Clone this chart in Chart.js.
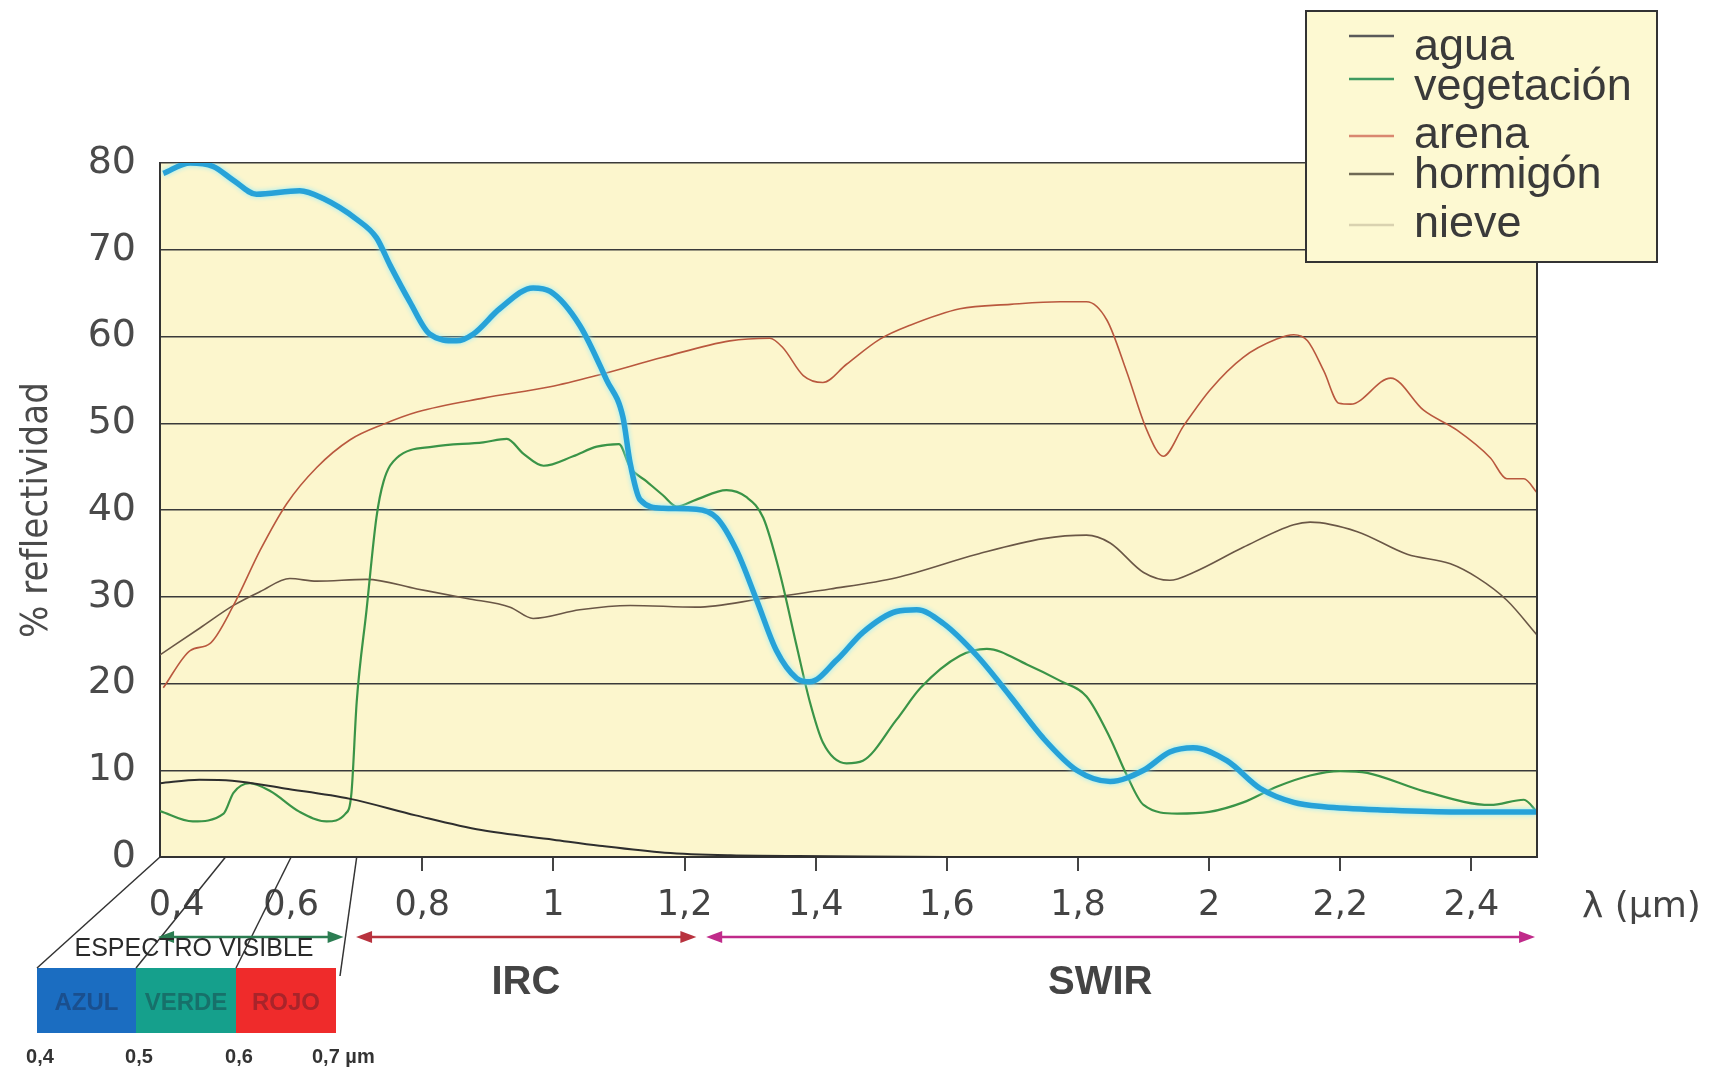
<!DOCTYPE html>
<html lang="es">
<head>
<meta charset="utf-8">
<title>Reflectividad espectral</title>
<script src="https://cdn.jsdelivr.net/npm/chart.js@4.4.1/dist/chart.umd.min.js"></script>
<style>
  html, body { margin: 0; padding: 0; background: #fff; }
  #wrap { width: 1731px; height: 1068px; position: relative; }
</style>
</head>
<body>
<div id="wrap"><canvas id="chart" width="1731" height="1068"></canvas></div>
<script>
// longitud de onda (µm) y % de reflectividad
const aguaX = [0.4, 0.46, 0.51, 0.59, 0.69, 0.79, 0.89, 1.0, 1.07, 1.17, 1.27, 1.42, 1.6, 2.0, 2.5];
const aguaY = [8.5, 8.9, 8.8, 7.9, 6.7, 4.8, 3.1, 2.0, 1.3, 0.5, 0.2, 0.1, 0, 0, 0];

const vegX = [0.4, 0.45, 0.497, 0.512, 0.537, 0.568, 0.613, 0.654, 0.683, 0.692, 0.70, 0.715, 0.73, 0.741, 0.761,
  0.817, 0.893, 0.929, 0.954, 0.985, 1.03, 1.066, 1.10, 1.117, 1.142, 1.167, 1.188, 1.218, 1.264, 1.294, 1.32,
  1.345, 1.371, 1.391, 1.411, 1.447, 1.472, 1.523, 1.56, 1.62, 1.661, 1.722, 1.773, 1.813, 1.849, 1.874, 1.90,
  1.951, 2.0, 2.052, 2.103, 2.154, 2.2, 2.241, 2.327, 2.429, 2.48, 2.5];
const vegY = [5.3, 4.1, 5.0, 7.4, 8.5, 7.6, 5.2, 4.1, 5.0, 7.4, 17.9, 28.5, 39.1, 43.3, 46,
  47.3, 47.8, 48.2, 46.5, 45.1, 46.2, 47.3, 47.6, 44.9, 43.3, 41.7, 40.4, 41.2, 42.3, 41.5, 39.1,
  32.8, 24.3, 17.9, 13.2, 10.8, 11.1, 15.8, 19.5, 23.2, 24, 22.2, 20.3, 18.5, 13.7, 9.5, 6.0,
  5.0, 5.2, 6.3, 8.1, 9.4, 9.9, 9.7, 7.6, 6.0, 6.6, 5.2];

const arenaX = [0.405, 0.446, 0.476, 0.512, 0.553, 0.593, 0.639, 0.69, 0.741, 0.792, 0.893, 0.995, 1.066, 1.167,
  1.269, 1.33, 1.35, 1.381, 1.411, 1.447, 1.498, 1.544, 1.62, 1.697, 1.773, 1.813, 1.844, 1.874, 1.905, 1.93,
  1.961, 2.002, 2.052, 2.103, 2.129, 2.15, 2.175, 2.198, 2.216, 2.277, 2.327, 2.378, 2.429, 2.454, 2.48, 2.5];
const arenaY = [19.5, 23.8, 24.6, 29, 35.4, 40.7, 44.9, 48.1, 49.9, 51.3, 52.9, 54.2, 55.5, 57.6,
  59.5, 59.8, 58.7, 55.5, 54.7, 56.8, 59.7, 61.3, 63.2, 63.7, 64, 64, 61.9, 56, 49.2, 46.2,
  49.7, 53.9, 57.6, 59.7, 60.2, 59.5, 56, 52.3, 52.2, 55.2, 51.5, 49.2, 46, 43.6, 43.6, 42];

const hormigonX = [0.4, 0.461, 0.512, 0.553, 0.598, 0.639, 0.715, 0.792, 0.868, 0.934, 0.969, 1.04, 1.117, 1.218,
  1.32, 1.422, 1.523, 1.646, 1.747, 1.813, 1.849, 1.9, 1.94, 1.976, 2.052, 2.129, 2.154, 2.226, 2.302, 2.368,
  2.409, 2.454, 2.5];
const hormigonY = [23.3, 26.4, 29, 30.6, 32.1, 31.8, 32, 30.9, 29.8, 28.8, 27.5, 28.5, 29, 28.8,
  29.8, 30.9, 32.2, 34.9, 36.7, 37.1, 36.2, 32.8, 31.9, 32.8, 35.7, 38.3, 38.6, 37.5, 34.9, 33.8,
  32.2, 29.6, 25.6];

const nieveX = [0.405, 0.446, 0.481, 0.512, 0.547, 0.613, 0.649, 0.70, 0.73, 0.751, 0.781, 0.811, 0.852, 0.878,
  0.918, 0.969, 0.995, 1.04, 1.081, 1.106, 1.117, 1.132, 1.167, 1.218, 1.249, 1.279, 1.31, 1.34, 1.371, 1.391,
  1.432, 1.472, 1.523, 1.554, 1.595, 1.646, 1.697, 1.747, 1.798, 1.849, 1.9, 1.94, 1.976, 2.027, 2.078, 2.129,
  2.175, 2.277, 2.378, 2.5];
const nieveY = [78.8, 80, 79.6, 78, 76.4, 76.8, 75.9, 73.5, 71.4, 68.2, 64, 60.3, 59.5, 60.3,
  63.2, 65.6, 65.2, 61.3, 55, 50.7, 45.4, 41.2, 40.2, 40.1, 39.1, 35.4, 29.6, 23.8, 20.6, 20.2,
  22.7, 25.9, 28.3, 28.5, 26.9, 23.2, 18.5, 13.7, 10.0, 8.7, 10.0, 12.1, 12.6, 11.1, 7.9, 6.3,
  5.8, 5.4, 5.2, 5.2];

const xTicks = [0.4, 0.6, 0.8, 1.0, 1.2, 1.4, 1.6, 1.8, 2.0, 2.2, 2.4];
const bandEdges = [0.4, 0.5, 0.6, 0.7];
const bandNames = ['AZUL', 'VERDE', 'ROJO'];

const pts = (xs, ys) => xs.map((x, i) => ({ x: x, y: ys[i] }));

const extras = {
  id: 'extras',
  beforeDraw(chart) {
    const { ctx, chartArea: a } = chart;
    ctx.save();
    ctx.fillStyle = '#fcf6cd';
    ctx.fillRect(a.left, a.top, a.right - a.left, a.bottom - a.top);
    ctx.restore();
  },
  // halo claro alrededor de la curva de nieve
  beforeDatasetDraw(chart, args) {
    if (chart.data.datasets[args.index].label !== 'nieve') return;
    chart.ctx.save();
    chart.ctx.shadowColor = 'rgba(140, 235, 255, 0.95)';
    chart.ctx.shadowBlur = 5;
  },
  afterDatasetDraw(chart, args) {
    if (chart.data.datasets[args.index].label !== 'nieve') return;
    chart.ctx.restore();
  },
  afterDraw(chart) {
    const { ctx, chartArea: a } = chart;
    const xs = chart.scales.x;
    ctx.save();

    // borde derecho
    ctx.strokeStyle = '#333';
    ctx.lineWidth = 2;
    ctx.beginPath();
    ctx.moveTo(a.right, a.top);
    ctx.lineTo(a.right, a.bottom);
    ctx.stroke();

    // barra del espectro visible
    const barX = [37, 136, 236, 336];
    const barTop = 968, barH = 65;
    const barFill = ['#1b6dc1', '#15a08c', '#ef2b2b'];
    const barText = ['#1a4f8e', '#17706a', '#a8242a'];
    for (let i = 0; i < 3; i++) {
      ctx.fillStyle = barFill[i];
      ctx.fillRect(barX[i], barTop, barX[i + 1] - barX[i], barH);
      ctx.fillStyle = barText[i];
      ctx.font = 'bold 24px "Liberation Sans", Arial, sans-serif';
      ctx.textAlign = 'center';
      ctx.textBaseline = 'middle';
      ctx.fillText(bandNames[i], (barX[i] + barX[i + 1]) / 2, barTop + 35);
    }

    // lineas diagonales desde el eje hasta la barra
    ctx.strokeStyle = '#333';
    ctx.lineWidth = 1.5;
    bandEdges.forEach((w, i) => {
      ctx.beginPath();
      ctx.moveTo(xs.getPixelForValue(w), a.bottom);
      ctx.lineTo(i === 3 ? barX[i] + 4 : barX[i], i === 3 ? barTop + 8 : barTop);
      ctx.stroke();
    });

    // etiquetas bajo la barra
    ctx.fillStyle = '#333';
    ctx.font = 'bold 20px "Liberation Sans", Arial, sans-serif';
    ctx.textBaseline = 'middle';
    ctx.textAlign = 'center';
    bandEdges.forEach((w, i) => {
      const lbl = String(w).replace('.', ',');
      if (i < 3) ctx.fillText(lbl, barX[i] + 3, 1057);
      else { ctx.textAlign = 'left'; ctx.fillText(lbl + ' µm', barX[i] - 24, 1057); }
    });

    // flechas de rangos
    const arrow = (w1, w2, color) => {
      const x1 = xs.getPixelForValue(w1), x2 = xs.getPixelForValue(w2), y = 937;
      ctx.strokeStyle = color;
      ctx.fillStyle = color;
      ctx.lineWidth = 2.5;
      ctx.beginPath();
      ctx.moveTo(x1 + 8, y);
      ctx.lineTo(x2 - 8, y);
      ctx.stroke();
      [[x1, 1], [x2, -1]].forEach(([x, d]) => {
        ctx.beginPath();
        ctx.moveTo(x, y);
        ctx.lineTo(x + 16 * d, y - 6);
        ctx.lineTo(x + 16 * d, y + 6);
        ctx.closePath();
        ctx.fill();
      });
    };
    arrow(0.397, 0.68, '#2c7d52');
    arrow(0.699, 1.218, '#b8323e');
    arrow(1.233, 2.497, '#c02a8a');

    ctx.fillStyle = '#2a2a2a';
    ctx.font = '25px "Liberation Sans", Arial, sans-serif';
    ctx.textAlign = 'center';
    ctx.fillText('ESPECTRO VISIBLE', 194, 949);

    ctx.fillStyle = '#444';
    ctx.font = 'bold 40px "Liberation Sans", Arial, sans-serif';
    ctx.fillText('IRC', xs.getPixelForValue(0.958), 983);
    ctx.fillText('SWIR', xs.getPixelForValue(1.834), 983);

    ctx.fillStyle = '#444';
    ctx.font = '36px "DejaVu Sans", sans-serif';
    ctx.textAlign = 'left';
    ctx.fillText('λ (µm)', 1582, 908);

    // leyenda
    const lx = 1306, ly = 11, lw = 351, lh = 251;
    ctx.fillStyle = '#fdf9d2';
    ctx.fillRect(lx, ly, lw, lh);
    ctx.strokeStyle = '#333';
    ctx.lineWidth = 2;
    ctx.strokeRect(lx, ly, lw, lh);
    const lineY = [36, 79, 136, 174, 225];
    const baseY = [60, 100, 148, 188, 237];
    ctx.font = '45px "Liberation Sans", Arial, sans-serif';
    ctx.textBaseline = 'alphabetic';
    chart.data.datasets.forEach((ds, i) => {
      ctx.strokeStyle = ds.legendColor || ds.borderColor;
      ctx.lineWidth = 2.5;
      ctx.beginPath();
      ctx.moveTo(1349, lineY[i]);
      ctx.lineTo(1394, lineY[i]);
      ctx.stroke();
      ctx.fillStyle = '#3a3a3a';
      ctx.fillText(ds.label, 1414, baseY[i]);
    });

    ctx.restore();
  }
};

new Chart(document.getElementById('chart'), {
  type: 'line',
  data: {
    datasets: [
      { label: 'agua', data: pts(aguaX, aguaY), borderColor: '#2e2e2e', borderWidth: 2, legendColor: '#5a5a5a', order: 1 },
      { label: 'vegetación', data: pts(vegX, vegY), borderColor: '#3a9447', borderWidth: 2.2, legendColor: '#3f9a60', order: 1 },
      { label: 'arena', data: pts(arenaX, arenaY), borderColor: '#b9583e', borderWidth: 1.6, legendColor: '#d98870', order: 1 },
      { label: 'hormigón', data: pts(hormigonX, hormigonY), borderColor: '#6a5746', borderWidth: 1.6, legendColor: '#6f6a55', order: 1 },
      { label: 'nieve', data: pts(nieveX, nieveY), borderColor: '#27a2d8', borderWidth: 5.5, legendColor: '#d9d2b0', order: 0 }
    ]
  },
  options: {
    responsive: false,
    animation: false,
    layout: { padding: { left: 0, top: 163, right: 194, bottom: 0 } },
    elements: {
      point: { radius: 0 },
      line: { cubicInterpolationMode: 'monotone', fill: false }
    },
    plugins: {
      legend: { display: false },
      tooltip: { enabled: false }
    },
    scales: {
      x: {
        type: 'linear',
        min: 0.4,
        max: 2.5,
        afterBuildTicks: (s) => { s.ticks = xTicks.map(v => ({ value: v })); },
        afterFit: (s) => { s.height = 211; },
        grid: {
          drawOnChartArea: false,
          tickLength: 14,
          lineWidth: 2,
          color: (c) => (c.tick && c.tick.value < 0.7 ? 'rgba(0,0,0,0)' : '#444')
        },
        border: { color: '#333', width: 2 },
        ticks: {
          padding: 14,
          color: '#444',
          font: { family: '"DejaVu Sans", sans-serif', size: 35 },
          // la primera etiqueta va algo desplazada a la derecha
          callback: (v) => (v === 0.4 ? '   ' : '') + String(Math.round(v * 10) / 10).replace('.', ',')
        }
      },
      y: {
        min: 0,
        max: 80,
        afterFit: (s) => { s.width = 160; },
        grid: { color: '#3a3a3a', lineWidth: 1.5, drawTicks: false },
        border: { color: '#333', width: 2 },
        ticks: {
          stepSize: 10,
          padding: 24,
          color: '#4a4a4a',
          font: { family: '"DejaVu Sans", sans-serif', size: 38 }
        },
        title: {
          display: true,
          text: '% reflectividad',
          color: '#4a4a4a',
          padding: { top: 14, bottom: 0 },
          font: { family: '"Liberation Sans Narrow", "DejaVu Sans Condensed", "Liberation Sans", sans-serif', size: 38 }
        }
      }
    }
  },
  plugins: [extras]
});
</script>
</body>
</html>
